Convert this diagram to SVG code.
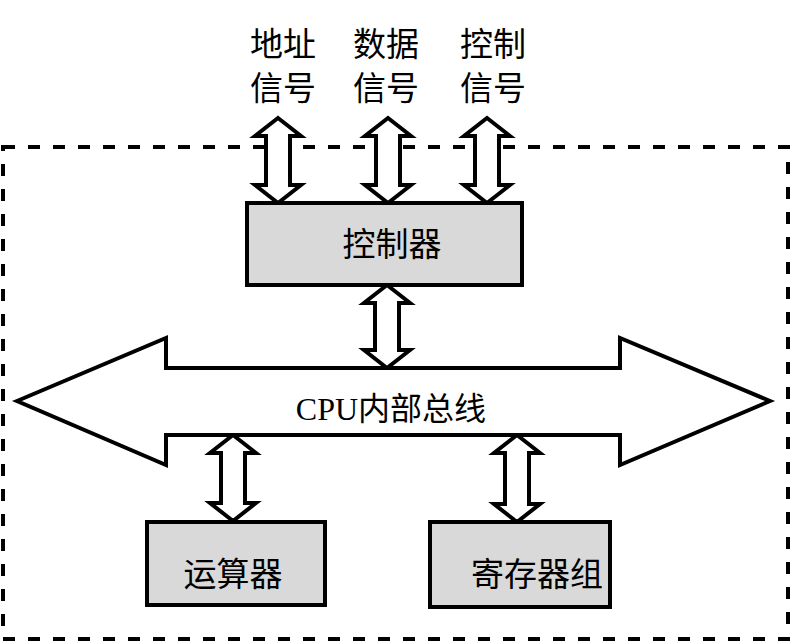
<svg xmlns="http://www.w3.org/2000/svg" width="792" height="642" viewBox="0 0 792 642">
<style>
.t{font-family:"Liberation Serif","Noto Sans CJK SC",serif;fill:#000;text-anchor:middle}
.box{fill:#d9d9d9;stroke:#000;stroke-width:4}
.arr{fill:#fff;stroke:#000;stroke-width:4;stroke-linejoin:miter}
</style>
<rect id="border" x="3" y="147" width="785" height="492" fill="none" stroke="#000" stroke-width="4" stroke-dasharray="12,13"/>
<g id="labels">
<text class="t" x="283" y="56" font-size="33">地址</text>
<text class="t" x="283" y="100" font-size="33">信号</text>
<text class="t" x="386" y="56" font-size="33">数据</text>
<text class="t" x="386" y="100" font-size="33">信号</text>
<text class="t" x="493" y="56" font-size="33">控制</text>
<text class="t" x="493" y="100" font-size="33">信号</text>
</g>
<g id="connectors">
<path class="arr" d="M278,118 L301,136 L290,136 L290,185 L301,185 L278,203 L255,185 L266,185 L266,136 L255,136 Z"/>
<path class="arr" d="M388,118 L411,136 L400,136 L400,185 L411,185 L388,203 L365,185 L376,185 L376,136 L365,136 Z"/>
<path class="arr" d="M487,118 L510,136 L499,136 L499,185 L510,185 L487,203 L464,185 L475,185 L475,136 L464,136 Z"/>
<path class="arr" d="M387,285 L410,303 L399,303 L399,350 L410,350 L387,368 L364,350 L375,350 L375,303 L364,303 Z"/>
<path class="arr" d="M233,435 L256,453 L245,453 L245,503 L256,503 L233,521 L210,503 L221,503 L221,453 L210,453 Z"/>
<path class="arr" d="M517,435 L540,453 L529,453 L529,504 L540,504 L517,522 L494,504 L505,504 L505,453 L494,453 Z"/>
</g>
<g id="bus">
<path class="arr" d="M17,401 L166,338 L166,368 L620,368 L620,338 L770,401 L620,465 L620,435 L166,435 L166,465 Z"/>
<text class="t" x="391" y="420" font-size="32">CPU内部总线</text>
</g>
<g id="controller">
<rect class="box" x="247" y="203" width="275" height="82"/>
<text class="t" x="392" y="256" font-size="33">控制器</text>
</g>
<g id="alu">
<rect class="box" x="147" y="522" width="178" height="83"/>
<text class="t" x="233" y="586" font-size="33">运算器</text>
</g>
<g id="regs">
<rect class="box" x="430" y="522" width="180" height="85"/>
<text class="t" x="537" y="586" font-size="33">寄存器组</text>
</g>
</svg>
